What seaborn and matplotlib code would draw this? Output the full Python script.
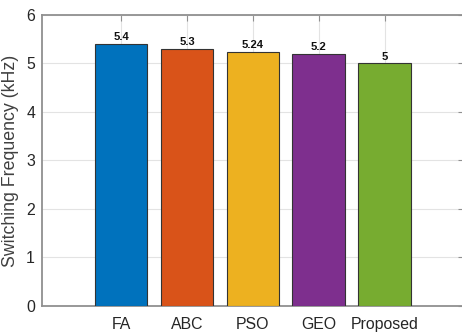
import matplotlib
matplotlib.use("Agg")
import matplotlib.pyplot as plt
import seaborn as sns
import pandas as pd
from matplotlib import font_manager

categories = ["FA", "ABC", "PSO", "GEO", "Proposed"]
values = [5.4, 5.3, 5.24, 5.2, 5.0]
value_labels = ["5.4", "5.3", "5.24", "5.2", "5"]
colors = ["#0072BD", "#D95319", "#EDB120", "#7E2F8E", "#77AC30"]
yticks = [0, 1, 2, 3, 4, 5, 6]

sns.set_style("white")
names = {f.name for f in font_manager.fontManager.ttflist}
narrow = "Liberation Sans Narrow" in names
fam = ['Liberation Sans Narrow', 'Liberation Sans', 'DejaVu Sans'] if narrow else ['Liberation Sans', 'DejaVu Sans']
plt.rcParams['font.family'] = fam
scale = 1.0 if narrow else 0.85

df = pd.DataFrame({"cat": categories, "val": values})

fig = plt.figure(figsize=(4.62, 3.33), dpi=100)
ax = fig.add_axes([0.0909, 0.0811, 0.913, 0.874])
sns.barplot(data=df, x="cat", y="val", hue="cat", palette=colors, order=categories,
            hue_order=categories, legend=False, width=0.8, saturation=1,
            edgecolor="#333333", linewidth=0.8, ax=ax, zorder=3)

ax.set_xlim(-1.2, 5.2)
ax.set_ylim(0, 6)
ax.set_yticks(yticks)
ax.set_xlabel("")
ax.set_ylabel("Switching Frequency (kHz)", fontsize=15 * scale, color="#404040", labelpad=5)
ax.grid(True, color="#e3e3e3", linewidth=0.8, zorder=0)
ax.set_axisbelow(True)

for s in ["top", "bottom", "left", "right"]:
    ax.spines[s].set_color("#909090")
    ax.spines[s].set_linewidth(1.3)

ax.tick_params(axis="both", direction="in", length=4, color="#909090",
               labelsize=13.5 * scale, labelcolor="#262626", top=True, right=True)
ax.tick_params(axis="x", pad=8)
ax.tick_params(axis="y", pad=5)

for i, (v, lab) in enumerate(zip(values, value_labels)):
    ax.text(i, v + 0.04, lab, ha="center", va="bottom", fontsize=9.5 * scale,
            fontweight="bold", color="#111111")

fig.savefig("out.png", dpi=100)
